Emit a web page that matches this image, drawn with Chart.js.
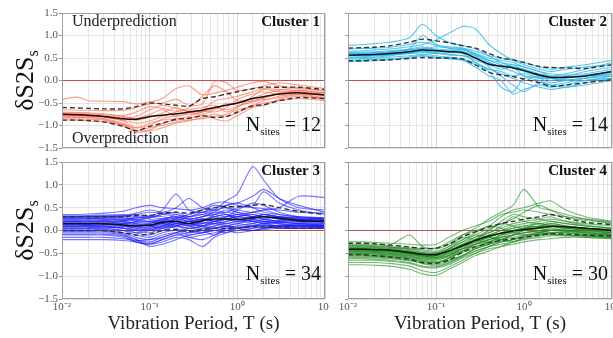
<!DOCTYPE html>
<html>
<head>
<meta charset="utf-8">
<script src="https://cdn.jsdelivr.net/npm/chart.js@4.4.1/dist/chart.umd.min.js"></script>
<style>
html, body { margin: 0; padding: 0; background: #fff; }
#wrap { position: relative; width: 613px; height: 338px; overflow: hidden; }
canvas { position: absolute; }
</style>
</head>
<body>
<div id="wrap">
  <canvas id="p1" width="330" height="156" style="left:0;top:0"></canvas>
  <canvas id="p2" width="283" height="156" style="left:330px;top:0"></canvas>
  <canvas id="p3" width="330" height="182" style="left:0;top:156px"></canvas>
  <canvas id="p4" width="283" height="182" style="left:330px;top:156px"></canvas>
</div>
<script>
// vibration periods (s) where every curve is sampled
const periods = [0.01, 0.015, 0.02, 0.03, 0.05, 0.07, 0.1, 0.14, 0.2, 0.28, 0.4, 0.55, 0.75, 1, 1.5, 2, 3, 5, 10];
const decadeLabels = ['10\u207B\u00B2', '10\u207B\u00B9', '10\u2070', '10\u00B9'];
const clusterNames = ['Cluster 1', 'Cluster 2', 'Cluster 3', 'Cluster 4'];
const siteCounts = [12, 14, 34, 30];
const yMin = -1.5, yMax = 1.5, yStep = 0.5;

// Cluster 1
const c1Mean  = [-0.75,-0.76,-0.77,-0.80,-0.85,-0.86,-0.80,-0.77,-0.74,-0.70,-0.66,-0.60,-0.55,-0.50,-0.40,-0.36,-0.30,-0.27,-0.32];
const c1Upper = [-0.60,-0.61,-0.62,-0.63,-0.63,-0.58,-0.50,-0.52,-0.55,-0.57,-0.40,-0.36,-0.30,-0.25,-0.18,-0.15,-0.15,-0.15,-0.20];
const c1Lower = [-0.88,-0.88,-0.89,-0.92,-1.02,-1.12,-1.02,-0.95,-0.86,-0.84,-0.78,-0.82,-0.80,-0.70,-0.56,-0.54,-0.45,-0.38,-0.40];
const c1Sites = [
  [-0.42,-0.37,-0.45,-0.46,-0.47,-0.52,-0.48,-0.40,-0.18,-0.12,-0.32,-0.28,-0.22,-0.15,-0.05,-0.02,-0.12,-0.18,-0.22],
  [-0.65,-0.66,-0.66,-0.67,-0.66,-0.60,-0.52,-0.50,-0.42,-0.55,-0.52,-0.02,-0.05,-0.22,-0.18,-0.12,-0.05,-0.10,-0.18],
  [-0.72,-0.73,-0.74,-0.76,-0.78,-0.70,-0.58,-0.62,-0.68,-0.60,-0.35,-0.12,-0.25,-0.45,-0.40,-0.30,-0.22,-0.15,-0.25],
  [-0.75,-0.76,-0.78,-0.80,-0.88,-0.95,-0.90,-0.80,-0.70,-0.65,-0.60,-0.55,-0.70,-0.60,-0.35,-0.20,-0.25,-0.22,-0.28],
  [-0.78,-0.79,-0.80,-0.82,-0.90,-1.05,-1.00,-0.85,-0.78,-0.75,-0.70,-0.62,-0.55,-0.50,-0.45,-0.38,-0.30,-0.28,-0.35],
  [-0.80,-0.81,-0.82,-0.85,-0.95,-1.10,-1.12,-1.05,-0.95,-0.90,-0.82,-0.75,-0.80,-0.72,-0.55,-0.45,-0.35,-0.30,-0.38],
  [-0.82,-0.82,-0.83,-0.86,-0.98,-1.15,-1.10,-0.95,-0.88,-0.85,-0.78,-0.85,-0.90,-0.78,-0.60,-0.55,-0.42,-0.35,-0.42],
  [-0.85,-0.85,-0.86,-0.88,-1.00,-1.12,-1.05,-1.00,-0.92,-0.88,-0.85,-0.80,-0.75,-0.65,-0.58,-0.50,-0.45,-0.40,-0.45],
  [-0.70,-0.71,-0.72,-0.74,-0.80,-0.85,-0.75,-0.65,-0.80,-0.72,-0.68,-0.70,-0.60,-0.42,-0.30,-0.25,-0.32,-0.30,-0.30],
  [-0.77,-0.78,-0.78,-0.80,-0.85,-0.88,-0.82,-0.72,-0.60,-0.70,-0.75,-0.65,-0.50,-0.55,-0.48,-0.40,-0.28,-0.25,-0.32],
  [-0.88,-0.88,-0.90,-0.92,-0.98,-1.05,-0.95,-0.88,-0.85,-0.80,-0.70,-0.60,-0.65,-0.58,-0.45,-0.42,-0.38,-0.32,-0.40],
  [-0.74,-0.75,-0.76,-0.78,-0.82,-0.80,-0.65,-0.55,-0.62,-0.68,-0.65,-0.45,-0.40,-0.35,-0.25,-0.18,-0.20,-0.22,-0.28]
];

// Cluster 2
const c2Mean  = [0.56,0.57,0.58,0.60,0.64,0.68,0.66,0.64,0.62,0.50,0.36,0.32,0.28,0.22,0.12,0.07,0.07,0.10,0.20];
const c2Upper = [0.72,0.73,0.74,0.77,0.85,0.92,0.88,0.84,0.77,0.72,0.60,0.50,0.46,0.40,0.31,0.29,0.28,0.27,0.35];
const c2Lower = [0.44,0.44,0.45,0.46,0.49,0.51,0.50,0.50,0.48,0.35,0.18,0.12,0.09,0.03,-0.05,-0.13,-0.10,-0.05,0.02];
const c2Sites = [
  [0.78,0.80,0.82,0.85,0.95,1.25,1.00,0.85,0.78,0.70,0.55,0.40,0.35,0.30,0.20,0.10,0.15,0.25,0.40],
  [0.65,0.66,0.68,0.70,0.75,0.80,0.90,1.05,1.20,1.15,0.80,0.60,0.45,0.35,0.25,0.20,0.25,0.30,0.35],
  [0.60,0.60,0.62,0.64,0.70,1.00,0.80,0.72,0.68,0.60,0.40,0.30,0.20,0.10,0.05,0.05,0.10,0.20,0.30],
  [0.55,0.56,0.57,0.60,0.65,0.70,0.75,0.72,0.70,0.55,0.30,0.10,-0.10,-0.25,-0.05,-0.10,-0.15,-0.05,0.05],
  [0.50,0.51,0.52,0.55,0.60,0.65,0.60,0.62,0.60,0.40,0.20,-0.15,-0.25,0.05,0.00,-0.10,-0.05,0.05,0.15],
  [0.58,0.58,0.60,0.62,0.68,0.72,0.70,0.68,0.65,0.55,0.45,0.40,0.30,0.25,0.10,0.05,0.02,0.05,0.18],
  [0.45,0.46,0.47,0.48,0.52,0.55,0.50,0.48,0.45,0.30,0.10,0.00,-0.30,-0.20,-0.10,-0.15,-0.10,0.00,0.05],
  [0.52,0.53,0.55,0.57,0.62,0.65,0.62,0.58,0.55,0.45,0.35,0.25,0.30,0.10,0.08,0.00,0.05,0.10,0.12],
  [0.62,0.63,0.64,0.66,0.70,0.75,0.68,0.64,0.70,0.60,0.50,0.45,0.40,0.30,0.20,0.15,0.12,0.15,0.25],
  [0.48,0.49,0.50,0.52,0.55,0.58,0.55,0.52,0.48,0.35,0.25,0.15,0.05,-0.05,-0.15,-0.20,-0.15,-0.10,0.00],
  [0.70,0.71,0.72,0.74,0.80,0.85,0.78,0.75,0.72,0.65,0.55,0.50,0.45,0.40,0.30,0.25,0.30,0.35,0.45],
  [0.55,0.55,0.56,0.58,0.60,0.62,0.60,0.57,0.55,0.50,0.40,0.30,0.35,0.20,0.10,0.05,0.00,0.00,0.10],
  [0.42,0.43,0.44,0.46,0.50,0.55,0.52,0.50,0.46,0.40,0.25,0.20,0.10,0.15,0.05,-0.05,0.00,0.05,0.10],
  [0.60,0.61,0.62,0.64,0.68,0.70,0.68,0.66,0.62,0.58,0.45,0.35,0.30,0.25,0.15,0.10,0.08,0.12,0.20]
];

// Cluster 3
const c3Mean  = [0.15,0.15,0.15,0.15,0.12,0.10,0.12,0.18,0.20,0.15,0.22,0.25,0.25,0.24,0.28,0.30,0.27,0.22,0.20];
const c3Upper = [0.30,0.30,0.30,0.30,0.30,0.33,0.33,0.38,0.40,0.38,0.45,0.50,0.52,0.52,0.55,0.57,0.50,0.42,0.35];
const c3Lower = [0.00,0.00,0.00,0.00,-0.05,-0.10,-0.08,0.00,0.02,-0.02,0.02,0.05,0.05,0.05,0.08,0.08,0.08,0.05,0.05];
const c3Sites = [
  [0.35,0.35,0.36,0.38,0.42,0.50,0.55,0.50,0.48,0.45,0.50,0.60,0.62,0.55,0.50,0.48,0.45,0.40,0.38],
  [0.32,0.32,0.33,0.34,0.35,0.30,0.28,0.35,0.40,0.30,0.35,0.45,0.65,0.80,1.40,1.10,0.70,0.50,0.45],
  [0.30,0.30,0.31,0.32,0.30,0.25,0.30,0.45,0.80,0.45,0.40,0.50,0.55,0.60,0.75,0.90,0.70,0.55,0.40],
  [0.30,0.30,0.30,0.31,0.33,0.35,0.40,0.38,0.35,0.30,0.40,0.45,0.50,0.45,0.40,0.45,0.50,0.75,0.72],
  [0.28,0.28,0.29,0.30,0.28,0.22,0.20,0.25,0.30,0.25,0.30,0.35,0.40,0.35,0.30,0.35,0.30,0.25,0.22],
  [0.27,0.27,0.27,0.28,0.25,0.20,0.18,0.22,0.28,0.35,0.45,0.55,0.50,0.40,0.35,0.30,0.28,0.25,0.25],
  [0.25,0.25,0.26,0.27,0.30,0.35,0.30,0.25,0.20,0.15,0.20,0.30,0.35,0.30,0.40,0.45,0.35,0.30,0.28],
  [0.25,0.25,0.25,0.26,0.22,0.15,0.10,0.15,0.25,0.20,0.25,0.20,0.30,0.45,0.60,0.55,0.40,0.30,0.25],
  [0.22,0.22,0.23,0.24,0.25,0.28,0.32,0.30,0.25,0.18,0.15,0.20,0.25,0.30,0.25,0.20,0.22,0.20,0.18],
  [0.20,0.20,0.21,0.22,0.18,0.12,0.10,0.20,0.35,0.25,0.30,0.40,0.35,0.25,0.20,0.25,0.30,0.28,0.25],
  [0.20,0.20,0.20,0.21,0.20,0.15,0.12,0.15,0.18,0.10,0.15,0.25,0.30,0.35,0.30,0.25,0.20,0.15,0.15],
  [0.18,0.18,0.19,0.20,0.22,0.25,0.20,0.15,0.12,0.05,0.10,0.20,0.25,0.20,0.25,0.35,0.30,0.25,0.22],
  [0.18,0.18,0.18,0.19,0.15,0.08,0.05,0.10,0.20,0.30,0.35,0.30,0.25,0.30,0.35,0.30,0.25,0.20,0.20],
  [0.15,0.15,0.16,0.17,0.20,0.30,0.25,0.20,0.15,0.10,0.20,0.35,0.45,0.40,0.30,0.25,0.20,0.18,0.15],
  [0.15,0.15,0.15,0.16,0.12,0.05,0.02,0.08,0.15,0.20,0.18,0.15,0.20,0.25,0.20,0.18,0.15,0.12,0.10],
  [0.15,0.15,0.15,0.15,0.10,0.00,-0.05,0.05,0.10,0.05,0.10,0.15,0.10,0.15,0.25,0.30,0.25,0.20,0.18],
  [0.12,0.12,0.13,0.14,0.15,0.18,0.15,0.25,0.30,0.20,0.25,0.30,0.35,0.25,0.20,0.15,0.18,0.15,0.12],
  [0.12,0.12,0.12,0.13,0.10,0.05,0.08,0.12,0.10,0.00,0.05,0.10,0.15,0.20,0.15,0.10,0.12,0.10,0.08],
  [0.10,0.10,0.11,0.12,0.15,0.20,0.28,0.35,0.30,0.25,0.30,0.40,0.55,0.60,0.50,0.40,0.35,0.30,0.28],
  [0.10,0.10,0.10,0.10,0.05,-0.05,-0.10,0.00,0.10,0.15,0.10,0.05,0.10,0.15,0.10,0.12,0.10,0.08,0.06],
  [0.08,0.08,0.09,0.10,0.10,0.08,0.15,0.20,0.25,0.35,0.40,0.35,0.30,0.35,0.40,0.35,0.28,0.22,0.20],
  [0.08,0.08,0.08,0.09,0.05,0.00,0.05,0.10,0.05,-0.05,0.00,0.05,0.10,0.05,0.10,0.15,0.10,0.12,0.10],
  [0.05,0.05,0.06,0.07,0.05,0.02,0.00,0.05,0.15,0.10,0.05,0.10,0.20,0.25,0.20,0.15,0.20,0.25,0.22],
  [0.05,0.05,0.05,0.05,0.00,-0.10,-0.15,-0.05,0.00,-0.10,-0.05,0.00,0.05,0.10,0.05,0.08,0.05,0.05,0.05],
  [0.03,0.03,0.04,0.05,0.08,0.12,0.10,0.05,0.10,0.20,0.25,0.20,0.15,0.20,0.30,0.35,0.30,0.28,0.25],
  [0.00,0.00,0.01,0.02,0.00,-0.05,0.00,0.10,0.20,0.15,0.10,0.15,0.25,0.30,0.25,0.20,0.15,0.10,0.08],
  [0.00,0.00,0.00,0.00,-0.05,-0.15,-0.20,-0.10,-0.05,-0.15,-0.10,-0.05,0.00,0.05,0.10,0.05,0.08,0.10,0.12],
  [-0.02,-0.02,-0.02,-0.02,-0.08,-0.20,-0.25,-0.15,-0.05,0.05,0.00,-0.10,0.05,0.10,0.15,0.20,0.18,0.15,0.12],
  [-0.05,-0.05,-0.05,-0.05,-0.10,-0.25,-0.30,-0.25,-0.15,-0.20,-0.35,-0.15,-0.05,0.00,0.05,0.10,0.05,0.05,0.08],
  [-0.08,-0.08,-0.08,-0.08,-0.12,-0.20,-0.35,-0.30,-0.20,-0.10,-0.05,0.00,-0.05,0.05,0.10,0.12,0.10,0.10,0.10],
  [-0.10,-0.10,-0.10,-0.10,-0.15,-0.25,-0.30,-0.20,-0.10,-0.15,-0.20,-0.10,0.00,0.05,0.00,0.05,0.10,0.12,0.10],
  [-0.15,-0.15,-0.15,-0.15,-0.18,-0.22,-0.20,-0.15,-0.05,0.00,-0.05,0.05,0.10,0.05,0.00,0.02,0.05,0.05,0.05],
  [-0.20,-0.20,-0.20,-0.20,-0.22,-0.25,-0.28,-0.20,-0.10,-0.05,0.00,0.05,0.00,-0.05,0.00,0.05,0.08,0.05,0.05],
  [0.30,0.30,0.30,0.30,0.32,0.38,0.45,0.40,0.50,0.70,0.50,0.45,0.40,0.50,0.55,0.85,0.60,0.45,0.35]
];

// Cluster 4
const c4Mean  = [-0.41,-0.41,-0.42,-0.43,-0.48,-0.52,-0.53,-0.45,-0.33,-0.22,-0.12,-0.06,-0.01,0.02,0.06,0.09,0.08,0.05,0.00];
const c4Upper = [-0.28,-0.28,-0.29,-0.32,-0.36,-0.39,-0.39,-0.30,-0.14,-0.03,0.08,0.15,0.20,0.25,0.30,0.35,0.27,0.18,0.13];
const c4Lower = [-0.53,-0.53,-0.55,-0.58,-0.63,-0.70,-0.72,-0.65,-0.48,-0.36,-0.27,-0.22,-0.18,-0.15,-0.10,-0.07,-0.08,-0.10,-0.12];
const c4Sites = [
  [-0.25,-0.25,-0.26,-0.28,-0.30,-0.32,-0.30,-0.15,0.00,0.10,0.20,0.35,0.40,0.45,0.40,0.35,0.30,0.25,0.20],
  [-0.30,-0.30,-0.30,-0.32,-0.10,-0.35,-0.40,-0.30,-0.10,0.05,0.25,0.40,0.55,0.90,0.50,0.45,0.35,0.25,0.15],
  [-0.32,-0.32,-0.33,-0.35,-0.38,-0.40,-0.38,-0.25,-0.10,0.00,0.10,0.30,0.45,0.50,0.60,0.65,0.45,0.30,0.20],
  [-0.33,-0.33,-0.34,-0.36,-0.40,-0.42,-0.45,-0.35,-0.20,-0.10,0.05,0.15,0.25,0.40,0.55,0.45,0.30,0.22,0.18],
  [-0.35,-0.35,-0.35,-0.37,-0.40,-0.45,-0.48,-0.40,-0.25,-0.15,-0.05,0.10,0.30,0.20,0.15,0.20,0.15,0.10,0.05],
  [-0.36,-0.36,-0.37,-0.38,-0.42,-0.48,-0.50,-0.42,-0.30,-0.20,-0.10,0.00,0.10,0.15,0.20,0.25,0.20,0.15,0.10],
  [-0.38,-0.38,-0.38,-0.40,-0.45,-0.50,-0.52,-0.40,-0.20,-0.05,0.10,0.05,-0.05,0.05,0.15,0.10,0.05,0.05,0.00],
  [-0.38,-0.38,-0.39,-0.40,-0.44,-0.48,-0.50,-0.45,-0.35,-0.25,-0.15,-0.05,0.05,0.10,0.08,0.10,0.08,0.05,0.02],
  [-0.40,-0.40,-0.40,-0.42,-0.46,-0.52,-0.55,-0.45,-0.30,-0.15,0.00,0.20,0.35,0.30,0.25,0.20,0.15,0.10,0.05],
  [-0.40,-0.40,-0.41,-0.42,-0.47,-0.52,-0.50,-0.35,-0.15,-0.20,-0.25,-0.10,0.00,0.05,0.10,0.15,0.10,0.05,0.00],
  [-0.41,-0.41,-0.42,-0.43,-0.48,-0.54,-0.56,-0.50,-0.40,-0.30,-0.20,-0.10,-0.05,0.00,0.05,0.08,0.05,0.02,-0.02],
  [-0.42,-0.42,-0.42,-0.44,-0.50,-0.55,-0.58,-0.48,-0.32,-0.20,-0.05,0.05,0.15,0.20,0.25,0.30,0.20,0.12,0.05],
  [-0.43,-0.43,-0.44,-0.45,-0.50,-0.56,-0.55,-0.40,-0.25,-0.10,-0.15,-0.20,-0.10,0.00,0.05,0.00,0.02,0.00,-0.05],
  [-0.44,-0.44,-0.44,-0.46,-0.50,-0.55,-0.60,-0.52,-0.40,-0.30,-0.20,-0.15,-0.10,-0.05,0.00,0.05,0.00,-0.02,-0.05],
  [-0.45,-0.45,-0.46,-0.47,-0.52,-0.58,-0.60,-0.50,-0.35,-0.25,-0.10,0.00,0.05,0.10,0.15,0.10,0.05,0.03,0.00],
  [-0.46,-0.46,-0.46,-0.48,-0.52,-0.56,-0.55,-0.45,-0.35,-0.30,-0.25,-0.20,-0.10,0.00,-0.05,0.00,0.05,0.00,-0.05],
  [-0.47,-0.47,-0.48,-0.50,-0.55,-0.60,-0.62,-0.55,-0.40,-0.20,0.00,0.15,0.10,0.05,0.10,0.15,0.10,0.05,0.02],
  [-0.48,-0.48,-0.48,-0.50,-0.54,-0.58,-0.60,-0.55,-0.45,-0.35,-0.25,-0.15,-0.05,-0.10,-0.05,0.00,-0.02,-0.05,-0.08],
  [-0.50,-0.50,-0.50,-0.52,-0.56,-0.62,-0.65,-0.55,-0.35,-0.25,-0.15,-0.05,0.00,0.05,0.10,0.12,0.08,0.02,-0.03],
  [-0.50,-0.50,-0.51,-0.53,-0.58,-0.64,-0.68,-0.60,-0.45,-0.30,-0.15,-0.20,-0.25,-0.15,-0.05,0.00,0.00,-0.05,-0.10],
  [-0.52,-0.52,-0.52,-0.54,-0.58,-0.62,-0.64,-0.58,-0.48,-0.40,-0.30,-0.20,-0.15,-0.10,-0.08,-0.05,-0.05,-0.08,-0.10],
  [-0.53,-0.53,-0.54,-0.56,-0.60,-0.66,-0.70,-0.62,-0.45,-0.30,-0.20,-0.10,0.00,0.05,0.00,-0.05,-0.05,-0.08,-0.10],
  [-0.55,-0.55,-0.55,-0.57,-0.62,-0.68,-0.72,-0.60,-0.40,-0.35,-0.30,-0.25,-0.20,-0.15,-0.10,-0.08,-0.10,-0.12,-0.15],
  [-0.56,-0.56,-0.57,-0.58,-0.62,-0.68,-0.70,-0.65,-0.55,-0.45,-0.35,-0.25,-0.20,-0.12,-0.08,-0.05,-0.05,-0.10,-0.12],
  [-0.58,-0.58,-0.58,-0.60,-0.65,-0.72,-0.75,-0.68,-0.55,-0.40,-0.25,-0.15,-0.10,-0.05,0.00,0.02,0.00,-0.03,-0.08],
  [-0.60,-0.60,-0.60,-0.62,-0.66,-0.72,-0.78,-0.70,-0.58,-0.45,-0.35,-0.30,-0.25,-0.18,-0.12,-0.10,-0.10,-0.12,-0.15],
  [-0.62,-0.62,-0.63,-0.65,-0.70,-0.78,-0.80,-0.72,-0.55,-0.40,-0.30,-0.20,-0.10,-0.05,-0.02,0.00,-0.02,-0.05,-0.08],
  [-0.65,-0.65,-0.65,-0.67,-0.72,-0.80,-0.82,-0.75,-0.60,-0.50,-0.40,-0.35,-0.25,-0.20,-0.15,-0.12,-0.12,-0.15,-0.18],
  [-0.70,-0.70,-0.70,-0.72,-0.78,-0.88,-0.92,-0.80,-0.65,-0.50,-0.35,-0.25,-0.20,-0.10,-0.05,-0.08,-0.10,-0.12,-0.15],
  [-0.75,-0.75,-0.76,-0.78,-0.85,-0.95,-0.98,-0.85,-0.70,-0.55,-0.45,-0.35,-0.30,-0.25,-0.20,-0.18,-0.15,-0.15,-0.18]
];

const SERIF = '"Liberation Serif", "Times New Roman", serif';
const zeroColor = 'rgb(190,80,80)';

function pts(vals) {
  return periods.map((t, i) => ({x: t, y: vals[i]}));
}

// border, panel labels and the y title, drawn on top of the lines
const panelText = {
  id: 'panelText',
  afterDatasetsDraw(chart, args, o) {
    const ctx = chart.ctx, a = chart.chartArea;
    ctx.save();
    ctx.strokeStyle = '#a0a0a0';
    ctx.lineWidth = 1;
    ctx.strokeRect(a.left + 0.5, a.top + 0.5, a.right - a.left - 1, a.bottom - a.top - 1);

    ctx.fillStyle = '#111';
    ctx.textBaseline = 'alphabetic';
    ctx.textAlign = 'right';
    ctx.font = 'bold 15px ' + SERIF;
    ctx.fillText(o.cluster, a.right - 5, a.top + 13);

    // N_sites = n
    const big = '20px ' + SERIF, small = '11px ' + SERIF;
    const tail = ' = ' + o.n;
    ctx.textAlign = 'left';
    ctx.font = big;
    const wN = ctx.measureText('N').width, wT = ctx.measureText(tail).width;
    ctx.font = small;
    const wS = ctx.measureText('sites').width;
    let x = a.right - 4 - wN - wS - wT;
    const yb = a.top + 118;
    ctx.font = big; ctx.fillText('N', x, yb); x += wN;
    ctx.font = small; ctx.fillText('sites', x, yb + 4); x += wS;
    ctx.font = big; ctx.fillText(tail, x, yb);

    if (o.notes) {
      ctx.font = '16px ' + SERIF;
      ctx.fillStyle = '#222';
      ctx.fillText('Underprediction', a.left + 10, a.top + 13);
      ctx.fillText('Overprediction', a.left + 10, a.bottom - 5);
    }

    if (o.yTitle) {
      const cy = (a.top + a.bottom) / 2;
      ctx.fillStyle = '#111';
      ctx.font = '26px ' + SERIF;
      const w1 = ctx.measureText('\u03B4S2S').width;
      ctx.font = '16px ' + SERIF;
      const w2 = ctx.measureText('s').width;
      ctx.translate(33, cy);
      ctx.rotate(-Math.PI / 2);
      ctx.font = '26px ' + SERIF;
      ctx.fillText('\u03B4S2S', -(w1 + w2) / 2, 0);
      ctx.font = '16px ' + SERIF;
      ctx.fillText('s', -(w1 + w2) / 2 + w1, 5);
    }
    ctx.restore();
  }
};

function makePanel(p) {
  const datasets = [
    {data: pts(p.mean), borderColor: '#111', borderWidth: 1.5, order: 0},
    {data: pts(p.upper), borderColor: '#333', borderWidth: 1.4, borderDash: [5, 3], order: 1},
    {data: pts(p.lower), borderColor: '#333', borderWidth: 1.4, borderDash: [5, 3], order: 1}
  ];
  p.sites.forEach(s => datasets.push({data: pts(s), borderColor: p.color, borderWidth: 1.1, order: 2}));
  datasets.push({
    data: [{x: periods[0], y: 0}, {x: periods[periods.length - 1], y: 0}],
    borderColor: zeroColor, borderWidth: 1.2, tension: 0, order: 3
  });

  new Chart(document.getElementById(p.id), {
    type: 'line',
    data: {datasets},
    options: {
      responsive: false,
      animation: false,
      devicePixelRatio: 1,
      layout: {padding: {top: p.padTop, right: p.padRight, left: 0, bottom: 0}},
      elements: {point: {radius: 0}, line: {tension: 0.25, fill: false}},
      plugins: {
        legend: {display: false},
        tooltip: {enabled: false},
        panelText: {cluster: p.cluster, n: p.n, notes: p.notes, yTitle: p.yTitle}
      },
      scales: {
        x: {
          type: 'logarithmic',
          min: 0.01,
          max: 10,
          border: {display: false},
          grid: {
            drawTicks: false,
            color: ctx => {
              const e = Math.log10(ctx.tick.value);
              return Math.abs(e - Math.round(e)) < 1e-6 ? '#d4d4d4' : '#e6e6e6';
            }
          },
          ticks: {
            display: p.xLabels,
            autoSkip: false,
            maxRotation: 0,
            minRotation: 0,
            padding: 2,
            color: '#555',
            font: {family: SERIF, size: 11},
            callback: v => {
              const e = Math.log10(v);
              return Math.abs(e - Math.round(e)) < 1e-6 ? decadeLabels[Math.round(e) + 2] : '';
            }
          },
          title: {
            display: p.xLabels,
            text: 'Vibration Period, T (s)',
            color: '#222',
            font: {family: SERIF, size: 19},
            padding: {top: 0, bottom: 3}
          },
          afterFit: s => { s.height = p.xHeight; s.paddingLeft = 0; s.paddingRight = 0; }
        },
        y: {
          min: yMin,
          max: yMax,
          border: {display: false},
          grid: {color: '#e3e3e3', tickLength: 3, tickColor: '#999'},
          ticks: {
            stepSize: yStep,
            display: p.yLabels,
            padding: 1,
            color: '#555',
            font: {family: SERIF, size: 11},
            callback: v => (v < 0 ? '\u2212' : '') + Math.abs(v).toFixed(1)
          },
          afterFit: s => { s.width = p.yWidth; s.paddingTop = 0; s.paddingBottom = 0; }
        }
      }
    },
    plugins: [panelText]
  });
}

makePanel({id: 'p1', cluster: clusterNames[0], n: siteCounts[0], mean: c1Mean, upper: c1Upper, lower: c1Lower,
  sites: c1Sites, color: 'rgba(255,105,75,0.65)', notes: true, yTitle: true, yLabels: true, xLabels: false,
  padTop: 13, padRight: 5, yWidth: 62, xHeight: 8});
makePanel({id: 'p2', cluster: clusterNames[1], n: siteCounts[1], mean: c2Mean, upper: c2Upper, lower: c2Lower,
  sites: c2Sites, color: 'rgba(45,185,235,0.8)', notes: false, yTitle: false, yLabels: false, xLabels: false,
  padTop: 13, padRight: 1, yWidth: 18, xHeight: 8});
makePanel({id: 'p3', cluster: clusterNames[2], n: siteCounts[2], mean: c3Mean, upper: c3Upper, lower: c3Lower,
  sites: c3Sites, color: 'rgba(25,25,255,0.6)', notes: false, yTitle: true, yLabels: true, xLabels: true,
  padTop: 6, padRight: 5, yWidth: 62, xHeight: 39});
makePanel({id: 'p4', cluster: clusterNames[3], n: siteCounts[3], mean: c4Mean, upper: c4Upper, lower: c4Lower,
  sites: c4Sites, color: 'rgba(30,140,30,0.6)', notes: false, yTitle: false, yLabels: false, xLabels: true,
  padTop: 6, padRight: 1, yWidth: 18, xHeight: 39});
</script>
</body>
</html>
